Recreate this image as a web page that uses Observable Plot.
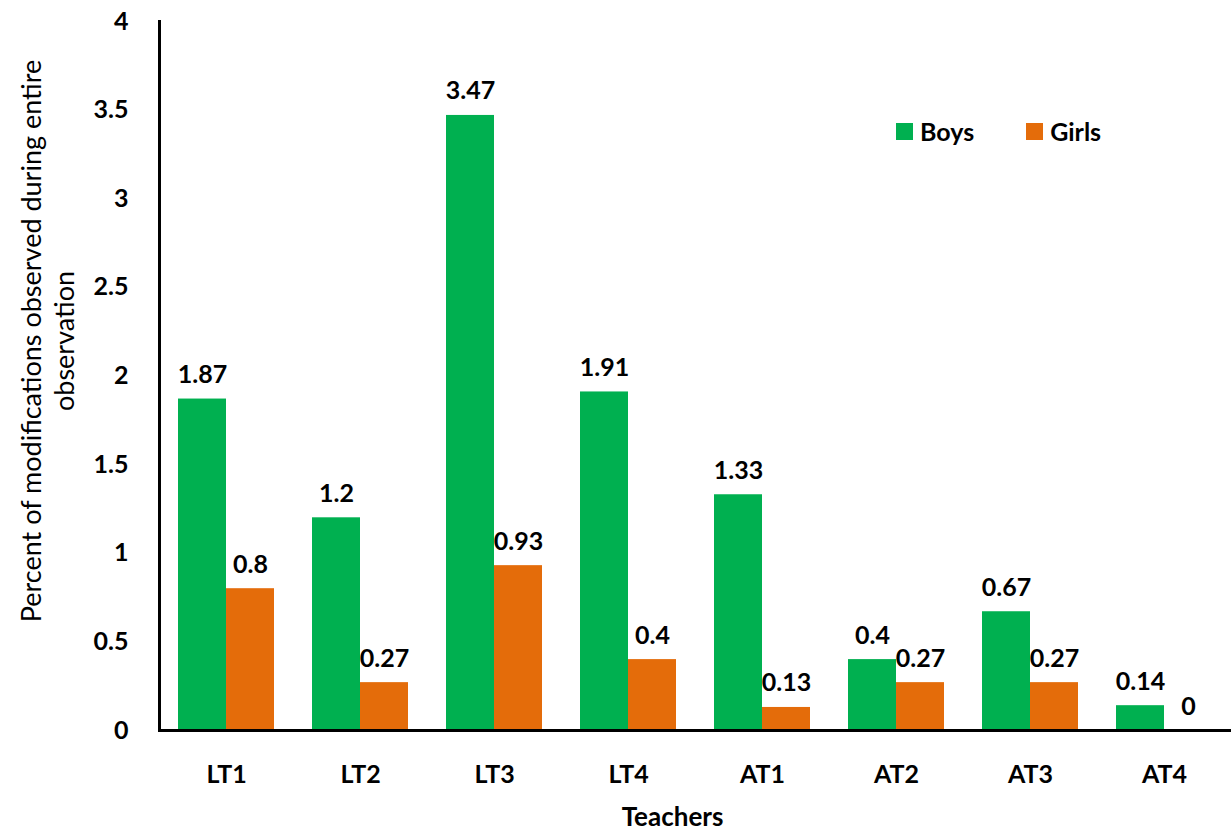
<!DOCTYPE html>
<html><head><meta charset="utf-8">
<script src="https://cdn.jsdelivr.net/npm/d3@7"></script>
<script src="https://cdn.jsdelivr.net/npm/@observablehq/plot@0.6"></script>
<style>
body{margin:0;background:#fff;font-family:Lato,sans-serif}
#wrap{position:relative;width:1231px;height:832px}
#legend{position:absolute;left:896px;top:116px;display:flex;align-items:center;font:bold 25px Lato,sans-serif;color:#000}
.item{display:flex;align-items:center}
.sw{display:inline-block;width:17px;height:17px;margin-right:7px}
</style></head><body>
<div id="wrap"><div id="legend"></div></div>
<script>
const teachers = ["LT1","LT2","LT3","LT4","AT1","AT2","AT3","AT4"];
const series = ["Boys","Girls"];
const boys = [1.87,1.2,3.47,1.91,1.33,0.4,0.67,0.14];
const girls = [0.8,0.27,0.93,0.4,0.13,0.27,0.27,0];
const colors = ["#00B050","#E46C0A"];
const yTicks = [0,0.5,1,1.5,2,2.5,3,3.5,4];
const yLabel = "Percent of modifications observed during entire\nobservation";
const xLabel = "Teachers";

const data = teachers.flatMap((t,i)=>[
  {teacher:t, sex:series[0], value:boys[i]},
  {teacher:t, sex:series[1], value:girls[i]}
]);

const chart = Plot.plot({
  width:1231, height:832,
  marginLeft:158, marginRight:0, marginTop:21, marginBottom:102,
  style:{fontFamily:"Lato, sans-serif", background:"#fff", color:"#000", overflow:"visible"},
  fx:{domain:teachers, padding:0, label:null},
  x:{domain:series, paddingInner:0, paddingOuter:0.38, axis:null},
  y:{domain:[0,4]},
  color:{domain:series, range:colors},
  marks:[
    Plot.barY(data,{fx:"teacher", x:"sex", y:"value", fill:"sex"}),
    Plot.text(data,{fx:"teacher", x:"sex", y:"value", text:d=>String(d.value), lineAnchor:"bottom", dy:-16, fontSize:25, fontWeight:"bold", fill:"#000"}),
    Plot.axisY({ticks:yTicks, tickFormat:d=>String(d), tickSize:0, tickPadding:31, fontSize:25, fontWeight:"bold", label:null}),
    Plot.axisFx({anchor:"bottom", tickSize:0, tickPadding:35, fontSize:25, fontWeight:"bold", label:null}),
    Plot.ruleY([0],{stroke:"#000", strokeWidth:3}),
    Plot.frame({anchor:"left", facet:"super", stroke:"#000", strokeWidth:3}),
    Plot.text([yLabel],{text:d=>d, frameAnchor:"left", textAnchor:"middle", rotate:-90, dx:-113, dy:-35, fontSize:27, lineHeight:1.22, facet:"super", fill:"#000"}),
    Plot.text([xLabel],{text:d=>d, frameAnchor:"bottom", dx:-23, dy:95, fontSize:26, fontWeight:"bold", facet:"super", fill:"#000"})
  ]
});
document.getElementById("wrap").prepend(chart);

const legend = document.getElementById("legend");
series.forEach((s,i)=>{
  const it = document.createElement("span");
  it.className = "item";
  it.style.marginRight = i===0 ? "52px" : "0";
  it.innerHTML = `<span class="sw" style="background:${colors[i]}"></span>${s}`;
  legend.appendChild(it);
});
</script>
</body></html>
